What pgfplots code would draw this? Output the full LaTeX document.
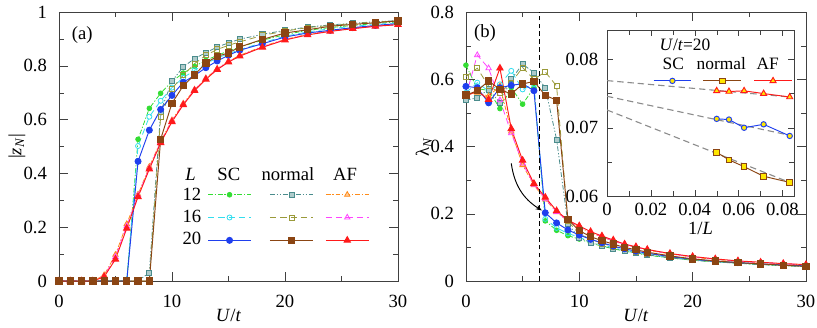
\documentclass[border=0pt]{standalone}
\usepackage{fontspec}
\setmainfont{Liberation Serif}
\usepackage{pgfplots}
\usepackage{pgfplotstable}
\pgfplotsset{compat=1.18}
\usetikzlibrary{arrows.meta}

\definecolor{cgreen}{HTML}{33DD33}
\definecolor{ccyan}{HTML}{33DDEE}
\definecolor{cblue}{HTML}{1F3FEE}
\definecolor{cteal}{HTML}{4A8C8C}
\definecolor{colive}{HTML}{9A9A3A}
\definecolor{cbrown}{HTML}{8B4513}
\definecolor{corange}{HTML}{FF8C1A}
\definecolor{cmag}{HTML}{FF44FF}
\definecolor{cred}{HTML}{FF1A1A}
\definecolor{cyel}{HTML}{FFE600}

% |z_N| versus U/t
\pgfplotstableread{
U  sc12  sc16  sc20  n12   n16   n20   af12  af16  af20
0  0     0     0     0     0     0     0     0     0
1  0     0     0     0     0     0     0     0     0
2  0     0     0     0     0     0     0     0     0
3  0     0     0     0     0     0     0     0     0
4  0     0     0     0     0     0     0.022 0.018 0.016
5  0     0     0     0     0     0     0.098 0.090 0.081
6  0     0     0     0     0     0     0.212 0.204 0.196
7  0.527 0.502 0.445 0     0     0     0.322 0.318 0.313
8  0.642 0.611 0.561 0.032 0     0     0.425 0.420 0.416
9  0.698 0.670 0.638 0.630 0.611 0.527 0.520 0.517 0.514
10 0.742 0.719 0.690 0.743 0.715 0.661 0.598 0.595 0.592
11 0.773 0.756 0.739 0.796 0.765 0.726 0.660 0.657 0.655
12 0.798 0.783 0.764 0.827 0.808 0.766 0.712 0.710 0.708
13 0.820 0.808 0.793 0.849 0.839 0.811 0.754 0.752 0.750
14 0.839 0.829 0.818 0.870 0.861 0.835 0.789 0.787 0.786
15 0.855 0.845 0.839 0.885 0.876 0.848 0.817 0.815 0.814
16 0.870 0.860 0.858 0.899 0.889 0.870 0.839 0.837 0.836
18 0.895 0.886 0.882 0.917 0.913 0.898 0.872 0.870 0.869
20 0.916 0.910 0.907 0.932 0.929 0.922 0.898 0.897 0.896
22 0.932 0.926 0.922 0.944 0.942 0.934 0.917 0.916 0.915
24 0.942 0.938 0.932 0.952 0.950 0.947 0.930 0.929 0.928
26 0.950 0.947 0.942 0.958 0.957 0.954 0.940 0.939 0.938
28 0.957 0.954 0.950 0.964 0.963 0.960 0.948 0.947 0.947
30 0.963 0.960 0.957 0.968 0.967 0.967 0.954 0.953 0.953
}\tabA

% lambda_N versus U/t
\pgfplotstableread{
U  sc12  sc16  sc20  n12   n16   n20   af12  af16  af20
0  0.642 0.560 0.579 0.538 0.608 0.553 0.555 0.550 0.550
1  0.572 0.590 0.575 0.545 0.633 0.566 0.560 0.672 0.565
2  0.567 0.565 0.530 0.570 0.580 0.595 0.550 0.633 0.540
3  0.513 0.585 0.575 0.530 0.560 0.570 0.580 0.538 0.633
4  0.575 0.625 0.582 0.600 0.590 0.556 0.445 0.440 0.453
5  0.526 0.570 0.587 0.645 0.635 0.586 0.345 0.350 0.359
6  0.575 0.585 0.566 0.620 0.600 0.594 0.285 0.287 0.290
7  0.179 0.185 0.203 0.575 0.622 0.552 0.243 0.245 0.249
8  0.151 0.158 0.173 0.421 0.580 0.538 0.205 0.206 0.209
9  0.135 0.142 0.152 0.170 0.178 0.183 0.178 0.179 0.181
10 0.125 0.130 0.137 0.128 0.140 0.150 0.160 0.161 0.164
11 0.113 0.118 0.124 0.115 0.125 0.132 0.144 0.145 0.147
12 0.104 0.108 0.114 0.105 0.112 0.120 0.131 0.132 0.134
13 0.096 0.099 0.104 0.097 0.103 0.110 0.119 0.120 0.122
14 0.089 0.092 0.096 0.090 0.095 0.100 0.108 0.109 0.110
15 0.083 0.086 0.089 0.084 0.088 0.093 0.100 0.101 0.102
16 0.077 0.080 0.083 0.078 0.082 0.086 0.092 0.093 0.094
18 0.069 0.071 0.073 0.069 0.072 0.075 0.081 0.081 0.082
20 0.062 0.063 0.065 0.062 0.064 0.066 0.071 0.072 0.073
22 0.057 0.058 0.059 0.057 0.058 0.060 0.064 0.065 0.066
24 0.053 0.054 0.055 0.053 0.054 0.055 0.059 0.059 0.060
26 0.049 0.050 0.051 0.049 0.050 0.051 0.055 0.055 0.056
28 0.046 0.047 0.048 0.046 0.047 0.047 0.051 0.052 0.052
30 0.043 0.044 0.045 0.043 0.044 0.044 0.048 0.048 0.049
}\tabB

\pgfplotsset{
  base/.style={
    scale only axis, anchor=south west,
    tick align=inside, major tick length=5.5pt, minor tick length=3.4pt,
    axis line style={black!75}, tick style={black!75},
    /pgf/number format/assume math mode=true,
    legend style={draw=none, fill=none, inner xsep=0pt, inner ysep=0pt,
      column sep=0pt, row sep=0pt, nodes={inner sep=0pt, text depth=0pt}},
  },
  % legend sample: box from 0 to #1, line to #3 with mark at #2, half height #4
  lg/.style n args={4}{legend image code/.code={%
    \path (0pt,-#4) (#1,#4);
    \draw[mark repeat=2,mark phase=2,##1] plot coordinates {(0pt,0pt) (#2,0pt) (#3,0pt)};}},
  sc12/.style={cgreen, line width=0.5pt, dash pattern=on 3pt off 1.2pt on 0.8pt off 1.2pt, mark=*, mark size=1.5pt, mark options={solid}},
  sc16/.style={ccyan, line width=0.5pt, dash pattern=on 4pt off 2.5pt, mark=o, mark size=1.6pt, mark options={solid}},
  sc20/.style={cblue, line width=0.6pt, mark=*, mark size=1.9pt},
  n12/.style={cteal, line width=0.5pt, dash pattern=on 3pt off 1.2pt on 0.8pt off 1.2pt on 0.8pt off 1.2pt, mark=square*, mark size=1.6pt, mark options={solid, fill=cteal!45}},
  n16/.style={colive, line width=0.5pt, dash pattern=on 4pt off 2.5pt, mark=square, mark size=1.6pt, mark options={solid}},
  n20/.style={cbrown, line width=0.6pt, mark=square*, mark size=2pt},
  af12/.style={corange, line width=0.5pt, dash pattern=on 3pt off 1.2pt on 0.8pt off 1.2pt, mark=triangle*, mark size=2pt, mark options={solid, fill=corange!45}},
  af16/.style={cmag, line width=0.5pt, dash pattern=on 4pt off 2.5pt, mark=triangle, mark size=2pt, mark options={solid}},
  af20/.style={cred, line width=0.6pt, mark=triangle*, mark size=2.3pt},
  inSC/.style={cblue, line width=0.6pt, mark=*, mark size=1.7pt, mark options={fill=cyel}},
  inN/.style={cbrown, line width=0.6pt, mark=square*, mark size=1.8pt, mark options={fill=cyel}},
  inAF/.style={cred, line width=0.6pt, mark=triangle*, mark size=2.2pt, mark options={fill=cyel}},
  fit/.style={black!45, line width=0.7pt, dash pattern=on 4pt off 2.5pt},
}

\begin{document}
\fontsize{11.8}{14}\selectfont
\begin{tikzpicture}
\path[use as bounding box] (-37.3pt,-29.1pt) rectangle (479.8pt,177.9pt);

% ---------------- panel (a)
\begin{axis}[base, at={(0pt,0pt)},
  width=214.6pt, height=170.3pt,
  xmin=0, xmax=30, ymin=0, ymax=1,
  xtick={0,10,20,30}, ytick={0,0.2,0.4,0.6,0.8,1},
  minor x tick num=1, minor y tick num=1,
  x tick label style={yshift=-4.5pt}, y tick label style={xshift=-3.5pt},
  xlabel={\textit{U}/\textit{t}},
  ylabel={|\textit{z}\textsubscript{\textit{N}}|},
  xlabel style={at={(axis description cs:0.5,-0.126)}, anchor=center},
  ylabel style={at={(axis description cs:-0.124,0.5)}, anchor=center},
  legend columns=3,
  legend style={at={(axis description cs:0.4375,0.3643)}, anchor=north west},
]
\addplot[sc12, forget plot] table[x=U, y=sc12] {\tabA};
\addplot[sc16, forget plot] table[x=U, y=sc16] {\tabA};
\addplot[n12, forget plot] table[x=U, y=n12] {\tabA};
\addplot[n16, forget plot] table[x=U, y=n16] {\tabA};
\addplot[af12, forget plot] table[x=U, y=af12] {\tabA};
\addplot[af16, forget plot] table[x=U, y=af16] {\tabA};
\addplot[sc20, forget plot] table[x=U, y=sc20] {\tabA};
\addplot[af20, forget plot] table[x=U, y=af20] {\tabA};
\addplot[n20, forget plot] table[x=U, y=n20] {\tabA};

\addlegendimage{sc12, lg={37.6pt}{13.6pt}{27.2pt}{6.95pt}}\addlegendentry{}
\addlegendimage{n12, lg={33.7pt}{13.6pt}{27.2pt}{6.95pt}}\addlegendentry{}
\addlegendimage{af12, lg={27.2pt}{13.6pt}{27.2pt}{6.95pt}}\addlegendentry{}
\addlegendimage{sc16, lg={37.6pt}{13.6pt}{27.2pt}{6.95pt}}\addlegendentry{}
\addlegendimage{n16, lg={33.7pt}{13.6pt}{27.2pt}{6.95pt}}\addlegendentry{}
\addlegendimage{af16, lg={27.2pt}{13.6pt}{27.2pt}{6.95pt}}\addlegendentry{}
\addlegendimage{sc20, lg={37.6pt}{13.6pt}{27.2pt}{6.95pt}}\addlegendentry{}
\addlegendimage{n20, lg={33.7pt}{13.6pt}{27.2pt}{6.95pt}}\addlegendentry{}
\addlegendimage{af20, lg={27.2pt}{13.6pt}{27.2pt}{6.95pt}}\addlegendentry{}

\node at (axis description cs:0.388,0.398) {\textit{L}};
\node at (axis description cs:0.501,0.398) {SC};
\node at (axis description cs:0.6755,0.398) {normal};
\node at (axis description cs:0.8437,0.398) {AF};
\node at (axis description cs:0.392,0.3234) {12};
\node at (axis description cs:0.392,0.2416) {16};
\node at (axis description cs:0.392,0.160) {20};
\node at (axis description cs:0.069,0.914) {(a)};
\end{axis}

% ---------------- panel (b)
\begin{axis}[base, at={(257.6pt,0pt)},
  width=215.2pt, height=170.3pt,
  xmin=0, xmax=30, ymin=0, ymax=0.8,
  xtick={0,10,20,30}, ytick={0,0.2,0.4,0.6,0.8},
  minor x tick num=1, minor y tick num=1,
  x tick label style={yshift=-4.5pt}, y tick label style={xshift=-3.5pt},
  xlabel={\textit{U}/\textit{t}},
  ylabel={λ\textsubscript{\textit{N}}},
  xlabel style={at={(axis description cs:0.5,-0.126)}, anchor=center},
  ylabel style={at={(axis description cs:-0.124,0.5)}, anchor=center},
]
\addplot[sc12] table[x=U, y=sc12] {\tabB};
\addplot[sc16] table[x=U, y=sc16] {\tabB};
\addplot[n12] table[x=U, y=n12] {\tabB};
\addplot[n16] table[x=U, y=n16] {\tabB};
\addplot[af12] table[x=U, y=af12] {\tabB};
\addplot[af16] table[x=U, y=af16] {\tabB};
\addplot[sc20] table[x=U, y=sc20] {\tabB};
\addplot[af20] table[x=U, y=af20] {\tabB};
\addplot[n20] table[x=U, y=n20] {\tabB};
\draw[black, line width=0.8pt, dash pattern=on 3pt off 2pt] (axis cs:6.5,0) -- (axis cs:6.5,0.8);
\draw[black, line width=0.6pt, -{Stealth[length=4pt,width=3pt]}] (axis cs:4,0.35) to[bend right=25] (axis cs:6.7,0.21);
\node at (axis description cs:0.056,0.922) {(b)};
\end{axis}

% ---------------- inset
\begin{axis}[base, at={(346.9pt,53.8pt)},
  width=118.4pt, height=105.1pt,
  major tick length=4pt, minor tick length=3pt,
  axis background/.style={fill=white},
  xmin=0, xmax=0.0853, ymin=0.06, ymax=0.0843,
  xtick={0,0.02,0.04,0.06,0.08}, ytick={0.06,0.07,0.08},
  minor x tick num=1, minor y tick num=1,
  scaled ticks=false,
  tick label style={/pgf/number format/fixed, /pgf/number format/precision=2},
  y tick label style={xshift=-1.5pt},
  xlabel={1/\textit{L}},
  xlabel style={at={(axis description cs:0.5,-0.195)}, anchor=center},
  legend columns=3,
  legend style={at={(axis description cs:0.2444,0.746)}, anchor=north west},
]
\addplot[fit, forget plot] coordinates {(0,0.0769) (0.0833,0.0745)};
\addplot[fit, forget plot] coordinates {(0,0.0746) (0.0833,0.0689)};
\addplot[fit, forget plot] coordinates {(0,0.0726) (0.0833,0.0620)};
\addplot[inAF, forget plot] coordinates {(0.05,0.0754) (0.0556,0.0753) (0.0625,0.0754) (0.0714,0.0750) (0.0833,0.0745)};
\addplot[inSC, forget plot] coordinates {(0.05,0.0713) (0.0556,0.0712) (0.0625,0.0700) (0.0714,0.0705) (0.0833,0.0688)};
\addplot[inN, forget plot] coordinates {(0.05,0.0664) (0.0556,0.0653) (0.0625,0.0643) (0.0714,0.0629) (0.0833,0.0620)};

\addlegendimage{inSC, lg={29.9pt}{11.95pt}{23.9pt}{5pt}}\addlegendentry{}
\addlegendimage{inN, lg={30.6pt}{11.95pt}{23.9pt}{5pt}}\addlegendentry{}
\addlegendimage{inAF, lg={23.9pt}{11.95pt}{23.9pt}{5pt}}\addlegendentry{}

\node[font=\fontsize{11}{13}\selectfont] at (axis description cs:0.3545,0.799) {SC};
\node[font=\fontsize{11}{13}\selectfont] at (axis description cs:0.611,0.799) {normal};
\node[font=\fontsize{11}{13}\selectfont] at (axis description cs:0.859,0.799) {AF};
\node[anchor=west, font=\fontsize{11}{13}\selectfont] at (axis description cs:0.246,0.91) {\textit{U}/\textit{t}=20};
\end{axis}
\end{tikzpicture}
\end{document}
